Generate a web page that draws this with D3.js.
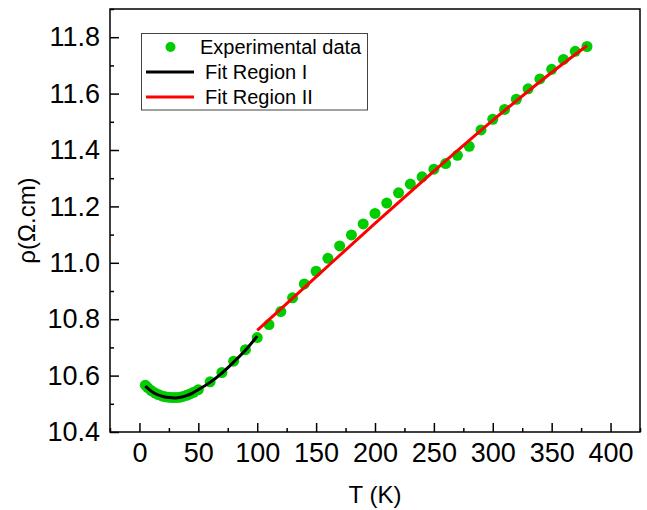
<!DOCTYPE html>
<html><head><meta charset="utf-8">
<script src="https://cdn.jsdelivr.net/npm/d3@7"></script>
<style>
body{margin:0;background:#fff}
svg{display:block}
text{font-family:"Liberation Sans",Arial,sans-serif;fill:#000}
</style>
</head><body>
<svg id="c" width="647" height="510"></svg>
<script>
// ---- data ----
const expT   = [5,7,10,13,16,19,22,25,28,31,34,37,40,43,46,50,60,70,80,90,100,110,120,130,140,150,160,170,180,190,200,210,220,230,240,250,260,270,280,290,300,310,320,330,340,350,360,370,380];
const expRho = [10.566,10.557,10.547,10.539,10.533,10.528,10.525,10.523,10.522,10.522,10.523,10.526,10.530,10.535,10.541,10.550,10.578,10.611,10.651,10.692,10.735,10.781,10.827,10.876,10.925,10.970,11.016,11.060,11.099,11.138,11.175,11.212,11.248,11.279,11.305,11.332,11.352,11.381,11.413,11.471,11.509,11.544,11.580,11.617,11.652,11.686,11.721,11.750,11.767];
const fit1T   = [5,10,15,20,25,30,35,40,45,50,60,70,80,90,100];
const fit1Rho = [10.563,10.545,10.533,10.526,10.522,10.521,10.523,10.529,10.538,10.550,10.576,10.609,10.648,10.690,10.740];
const fit2T   = [100,150,200,250,300,350,380];
const fit2Rho = [10.760,10.950,11.140,11.325,11.505,11.675,11.770];
const xTicks = [0,50,100,150,200,250,300,350,400];
const xMinor = [-25,25,75,125,175,225,275,325,375,425];
const yTicks = [10.4,10.6,10.8,11.0,11.2,11.4,11.6,11.8];
const yMinor = [10.5,10.7,10.9,11.1,11.3,11.5,11.7,11.9];
const legendLabels = ["Experimental data","Fit Region I","Fit Region II"];
const xTitle = "T (K)";
const yTitle = "ρ(Ω.cm)";

// ---- layout ----
const L = 110, R = 640, T = 9, B = 432;
const green = "#00cc00";
const svg = d3.select("#c");
const x = d3.scaleLinear().domain([-25,425]).range([L,R]);
const y = d3.scaleLinear().domain([10.4,11.9]).range([B,T]);

function styleAxis(g){
  g.select(".domain").remove();
  g.selectAll("line").attr("stroke","#000").attr("stroke-width",1.5);
}
// minor ticks
svg.append("g").attr("transform",`translate(0,${B})`)
  .call(d3.axisBottom(x).tickValues(xMinor).tickSize(-4).tickFormat(""))
  .call(styleAxis);
svg.append("g").attr("transform",`translate(${L},0)`)
  .call(d3.axisLeft(y).tickValues(yMinor).tickSize(-4).tickFormat(""))
  .call(styleAxis);
// major ticks
const gx = svg.append("g").attr("transform",`translate(0,${B})`)
  .call(d3.axisBottom(x).tickValues(xTicks).tickSize(-9).tickPadding(11).tickFormat(d3.format("d")))
  .call(styleAxis);
gx.selectAll("text").attr("font-size",27).attr("font-family",null);
const gy = svg.append("g").attr("transform",`translate(${L},0)`)
  .call(d3.axisLeft(y).tickValues(yTicks).tickSize(-9).tickPadding(10).tickFormat(d3.format(".1f")))
  .call(styleAxis);
gy.selectAll("text").attr("font-size",27).attr("font-family",null);

// frame
svg.append("rect").attr("x",L).attr("y",T).attr("width",R-L).attr("height",B-T)
  .attr("fill","none").attr("stroke","#000").attr("stroke-width",1.5);

// data points
svg.append("g").selectAll("circle").data(expT.map((t,i)=>[t,expRho[i]])).join("circle")
  .attr("cx",d=>x(d[0])).attr("cy",d=>y(d[1])).attr("r",5.5).attr("fill",green);

// fits
const line = d3.line().x(d=>x(d[0])).y(d=>y(d[1])).curve(d3.curveMonotoneX);
svg.append("path").datum(fit1T.map((t,i)=>[t,fit1Rho[i]])).attr("d",line)
  .attr("fill","none").attr("stroke","#000").attr("stroke-width",3);
svg.append("path").datum(fit2T.map((t,i)=>[t,fit2Rho[i]])).attr("d",line)
  .attr("fill","none").attr("stroke","#ff0000").attr("stroke-width",3);

// legend
const lg = svg.append("g");
lg.append("rect").attr("x",141.5).attr("y",33.5).attr("width",226).attr("height",76.5)
  .attr("fill","#fff").attr("stroke","#444").attr("stroke-width",1);
const rows = [47,72,97];
lg.append("circle").attr("cx",170.5).attr("cy",rows[0]).attr("r",5).attr("fill",green);
lg.append("line").attr("x1",146).attr("x2",194).attr("y1",rows[1]).attr("y2",rows[1]).attr("stroke","#000").attr("stroke-width",3);
lg.append("line").attr("x1",146).attr("x2",194).attr("y1",rows[2]).attr("y2",rows[2]).attr("stroke","#ff0000").attr("stroke-width",3);
legendLabels.forEach((s,i)=>{
  lg.append("text").attr("x",i===0?200:205).attr("y",rows[i]).attr("dy","0.35em")
    .attr("font-size",20).text(s);
});

// axis titles
svg.append("text").attr("x",(L+R)/2).attr("y",503).attr("text-anchor","middle")
  .attr("font-size",24).text(xTitle);
svg.append("text").attr("transform",`translate(35,${(T+B)/2}) rotate(-90)`).attr("text-anchor","middle")
  .attr("font-size",24).text(yTitle);
</script>
</body></html>
